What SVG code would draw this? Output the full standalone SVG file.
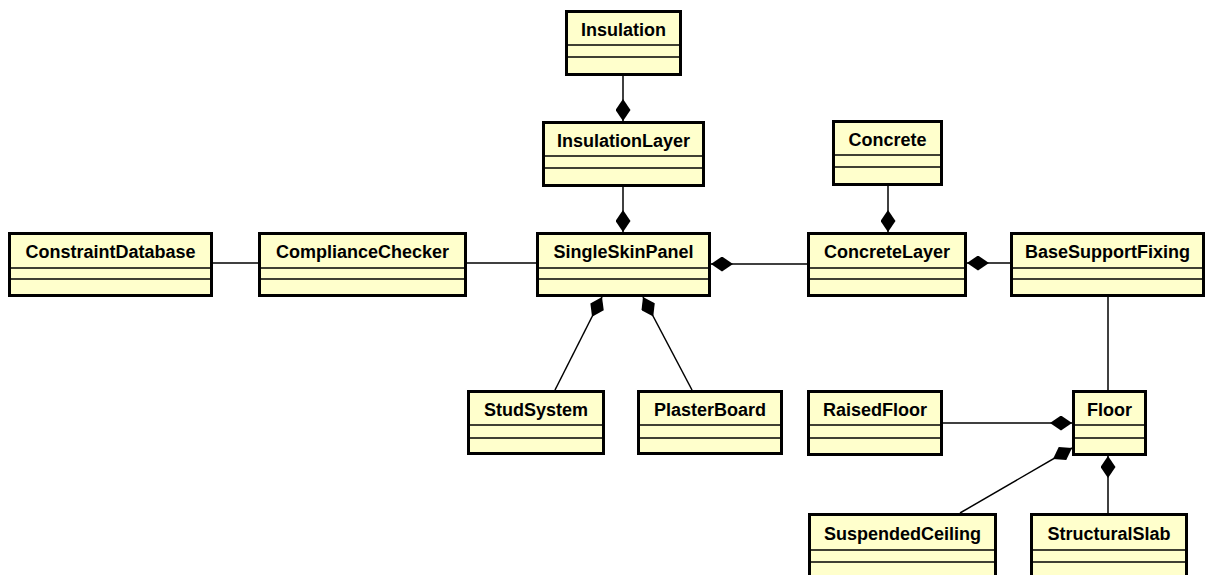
<svg xmlns="http://www.w3.org/2000/svg" width="1209" height="575" viewBox="0 0 1209 575">
<style>
.box{fill:#ffffcc;stroke:#000;stroke-width:3}
.div{stroke:#000;stroke-width:1.5}
.lbl{font-family:"Liberation Sans",Arial,sans-serif;font-weight:bold;font-size:18px;text-anchor:middle;fill:#000}
.c{stroke:#000;stroke-width:1.5;fill:none}
.cm{stroke:#000;stroke-width:1.5;fill:none;marker-start:url(#dia)}
</style>
<defs>
<marker id="dia" viewBox="0 0 22 15" refX="0" refY="7.5" markerWidth="22" markerHeight="15" markerUnits="userSpaceOnUse" orient="auto">
<path d="M0,7.5 L11,0 L22,7.5 L11,15 Z" fill="#000"/>
</marker>
</defs>
<rect width="1209" height="575" fill="#fff"/>
<g id="connectors">
<line class="cm" x1="623" y1="121" x2="623" y2="76"/>
<line class="cm" x1="623" y1="232" x2="623" y2="187"/>
<line class="c" x1="213" y1="263" x2="258" y2="263"/>
<line class="c" x1="467" y1="263" x2="536" y2="263"/>
<line class="cm" x1="711" y1="264" x2="807" y2="264"/>
<line class="cm" x1="888" y1="232" x2="888" y2="186"/>
<line class="cm" x1="967" y1="263" x2="1010" y2="263"/>
<line class="c" x1="1108" y1="297" x2="1108" y2="390"/>
<line class="cm" x1="1072" y1="423" x2="943" y2="423"/>
<line class="cm" x1="1072" y1="448" x2="960" y2="513"/>
<line class="cm" x1="1108" y1="456" x2="1108" y2="513"/>
<line class="cm" x1="602" y1="297" x2="555" y2="390"/>
<line class="cm" x1="643" y1="297" x2="692" y2="390"/>
</g>
<g id="Insulation"><rect class="box" x="566.5" y="11.5" width="114" height="63"/><line class="div" x1="566" y1="45" x2="681" y2="45"/><line class="div" x1="566" y1="57" x2="681" y2="57"/><text class="lbl" x="623.5" y="36">Insulation</text></g>
<g id="InsulationLayer"><rect class="box" x="543.5" y="122.5" width="160" height="63"/><line class="div" x1="543" y1="156" x2="704" y2="156"/><line class="div" x1="543" y1="168" x2="704" y2="168"/><text class="lbl" x="623.5" y="147">InsulationLayer</text></g>
<g id="Concrete"><rect class="box" x="833.5" y="121.5" width="108" height="63"/><line class="div" x1="833" y1="155" x2="942" y2="155"/><line class="div" x1="833" y1="167" x2="942" y2="167"/><text class="lbl" x="887.5" y="146">Concrete</text></g>
<g id="ConstraintDatabase"><rect class="box" x="9.5" y="233.5" width="202" height="62"/><line class="div" x1="9" y1="268" x2="212" y2="268"/><line class="div" x1="9" y1="279" x2="212" y2="279"/><text class="lbl" x="110.5" y="258">ConstraintDatabase</text></g>
<g id="ComplianceChecker"><rect class="box" x="259.5" y="233.5" width="206" height="62"/><line class="div" x1="259" y1="268" x2="466" y2="268"/><line class="div" x1="259" y1="279" x2="466" y2="279"/><text class="lbl" x="362.5" y="258">ComplianceChecker</text></g>
<g id="SingleSkinPanel"><rect class="box" x="537.5" y="233.5" width="172" height="62"/><line class="div" x1="537" y1="268" x2="710" y2="268"/><line class="div" x1="537" y1="279" x2="710" y2="279"/><text class="lbl" x="623.5" y="258">SingleSkinPanel</text></g>
<g id="ConcreteLayer"><rect class="box" x="808.5" y="233.5" width="157" height="62"/><line class="div" x1="808" y1="268" x2="966" y2="268"/><line class="div" x1="808" y1="279" x2="966" y2="279"/><text class="lbl" x="887" y="258">ConcreteLayer</text></g>
<g id="BaseSupportFixing"><rect class="box" x="1011.5" y="233.5" width="192" height="62"/><line class="div" x1="1011" y1="268" x2="1204" y2="268"/><line class="div" x1="1011" y1="279" x2="1204" y2="279"/><text class="lbl" x="1107.5" y="258">BaseSupportFixing</text></g>
<g id="StudSystem"><rect class="box" x="468.5" y="391.5" width="135" height="62"/><line class="div" x1="468" y1="425" x2="604" y2="425"/><line class="div" x1="468" y1="438" x2="604" y2="438"/><text class="lbl" x="536" y="416">StudSystem</text></g>
<g id="PlasterBoard"><rect class="box" x="638.5" y="391.5" width="143" height="62"/><line class="div" x1="638" y1="425" x2="782" y2="425"/><line class="div" x1="638" y1="438" x2="782" y2="438"/><text class="lbl" x="710" y="416">PlasterBoard</text></g>
<g id="RaisedFloor"><rect class="box" x="808.5" y="391.5" width="133" height="63"/><line class="div" x1="808" y1="425" x2="942" y2="425"/><line class="div" x1="808" y1="438" x2="942" y2="438"/><text class="lbl" x="875" y="416">RaisedFloor</text></g>
<g id="Floor"><rect class="box" x="1073.5" y="391.5" width="72" height="63"/><line class="div" x1="1073" y1="425" x2="1146" y2="425"/><line class="div" x1="1073" y1="438" x2="1146" y2="438"/><text class="lbl" x="1109.5" y="416">Floor</text></g>
<g id="SuspendedCeiling"><rect class="box" x="809.5" y="514.5" width="186" height="63"/><line class="div" x1="809" y1="550" x2="996" y2="550"/><line class="div" x1="809" y1="562" x2="996" y2="562"/><text class="lbl" x="902.5" y="540">SuspendedCeiling</text></g>
<g id="StructuralSlab"><rect class="box" x="1031.5" y="514.5" width="155" height="63"/><line class="div" x1="1031" y1="550" x2="1187" y2="550"/><line class="div" x1="1031" y1="562" x2="1187" y2="562"/><text class="lbl" x="1109" y="540">StructuralSlab</text></g>
</svg>
